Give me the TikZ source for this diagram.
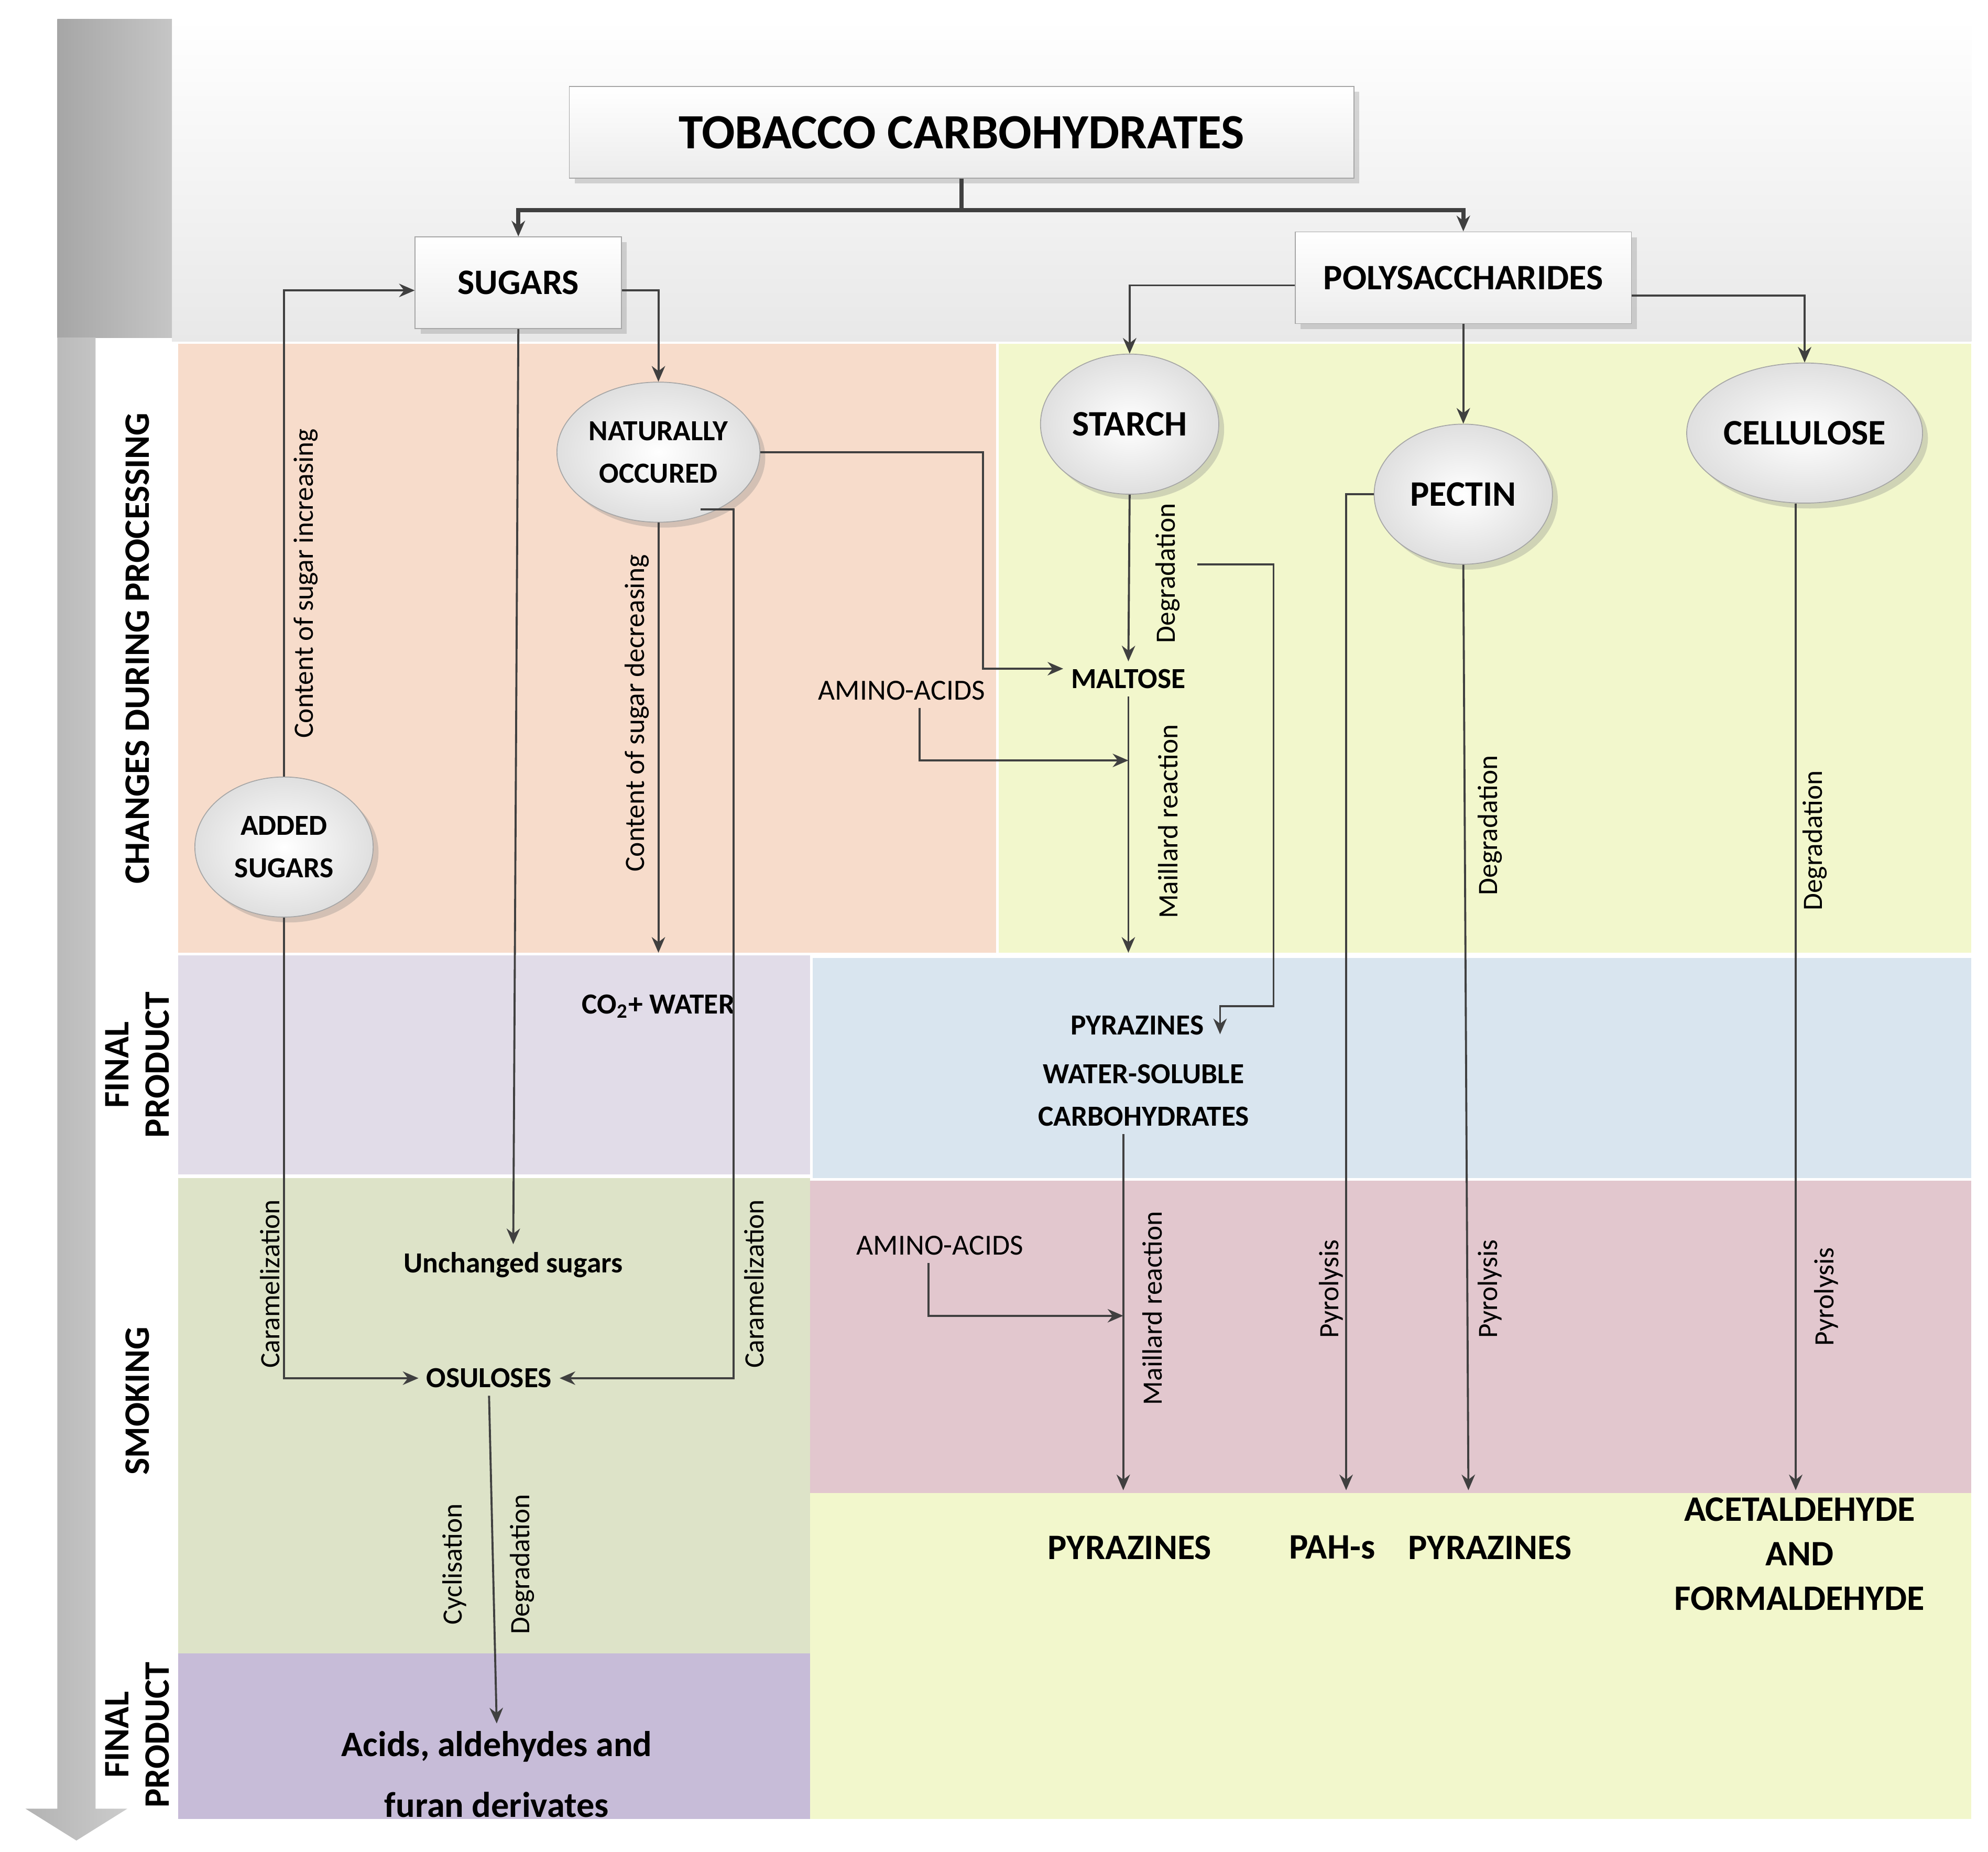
\documentclass[tikz,border=0pt]{standalone}
\usepackage{fontspec}
\setmainfont{Carlito}
\usetikzlibrary{shapes.geometric,arrows.meta,shadows}
\definecolor{ln}{HTML}{404040}
\definecolor{cor}{HTML}{F7DCCB}
\definecolor{cyl}{HTML}{F2F7CC}
\definecolor{clv}{HTML}{E1DCE8}
\definecolor{cbl}{HTML}{D9E5EF}
\definecolor{cgr}{HTML}{DDE3C8}
\definecolor{cpk}{HTML}{E2C7CE}
\definecolor{cpu}{HTML}{C7BCD8}
\begin{document}
\begin{tikzpicture}[x=0.02cm,y=-0.02cm,
 con/.style={draw=ln,line width=0.9pt,-{Stealth[length=7pt,width=6pt]}},
 box/.style={draw=gray!70,top color=white,bottom color=gray!15,font=\bfseries\fontsize{16}{19}\selectfont,drop shadow={opacity=0.3}},
 ell/.style={ellipse,draw=gray!70,inner color=white,outer color=gray!25,minimum width=140*0.02cm,minimum height=110*0.02cm,inner sep=1pt,align=center,font=\bfseries\fontsize{13}{19}\selectfont,drop shadow={opacity=0.3}},
 bl/.style={font=\bfseries\fontsize{13}{19}\selectfont,align=center},
 big/.style={font=\bfseries\fontsize{16}{24}\selectfont,align=center},
 lab/.style={font=\fontsize{12.5}{15}\selectfont,rotate=90},
 rowl/.style={font=\bfseries\fontsize{16}{18}\selectfont,rotate=90,align=center}]
\useasboundingbox (0,0) rectangle (1561,1454);
% backgrounds
\shade[top color=white,bottom color=gray!18] (135,15) rectangle (1548,268);
\shade[left color=gray!70,right color=gray!45] (45,15) rectangle (135,265);
\shade[left color=gray!60,right color=gray!40] (45,265) -- (75,265) -- (75,1420) -- (100,1420) -- (60,1445) -- (20,1420) -- (45,1420) -- cycle;
\fill[cor] (140,270) rectangle (782,748);
\fill[cyl] (784,270) rectangle (1548,748);
\fill[clv] (140,750) rectangle (636,922);
\fill[cbl] (638,752) rectangle (1548,925);
\fill[cgr] (140,925) rectangle (636,1298);
\fill[cpk] (636,927) rectangle (1548,1172);
\fill[cpu] (140,1298) rectangle (636,1428);
\fill[cyl] (636,1172) rectangle (1548,1428);
\node[rowl] (r1) at (108,509) {CHANGES DURING PROCESSING};
\node[rowl] (r2) at (108,836) {FINAL\\PRODUCT};
\node[rowl] (r3) at (108,1100) {SMOKING};
\node[rowl] (r4) at (108,1362) {FINAL\\PRODUCT};
% nodes
\node[box,minimum width=616*0.02cm,minimum height=72*0.02cm,font=\bfseries\fontsize{22}{26}\selectfont] (tc) at (755,104) {TOBACCO CARBOHYDRATES};
\node[box,minimum width=162*0.02cm,minimum height=72*0.02cm] (sug) at (407,222) {SUGARS};
\node[box,minimum width=264*0.02cm,minimum height=72*0.02cm] (pol) at (1149,218) {POLYSACCHARIDES};
\node[ell] (nat) at (517,355) {NATURALLY\\OCCURED};
\node[ell,font=\bfseries\fontsize{16}{20}\selectfont] (sta) at (887,333) {STARCH};
\node[ell,font=\bfseries\fontsize{16}{20}\selectfont] (pec) at (1149,388) {PECTIN};
\node[ell,font=\bfseries\fontsize{16}{20}\selectfont] (cel) at (1417,340) {CELLULOSE};
\node[ell] (add) at (223,665) {ADDED\\SUGARS};
\node[bl] (mal) at (886,533) {MALTOSE};
\node[font=\fontsize{13}{16}\selectfont] (am1) at (708,542) {AMINO-ACIDS};
\node[bl] (co2) at (517,790) {CO\textsubscript{2}+ WATER};
\node[bl] (py1) at (893,805) {PYRAZINES};
\node[bl] (ws) at (898,860) {WATER-SOLUBLE\\CARBOHYDRATES};
\node[bl] (un) at (403,993) {Unchanged sugars};
\node[bl] (os) at (384,1082) {OSULOSES};
\node[font=\fontsize{13}{16}\selectfont] (am2) at (738,978) {AMINO-ACIDS};
\node[big] (py2) at (887,1215) {PYRAZINES};
\node[big] (pah) at (1046,1215) {PAH-s};
\node[big] (py3) at (1170,1215) {PYRAZINES};
\node[big,font=\bfseries\fontsize{16}{20}\selectfont] (acf) at (1413,1220) {ACETALDEHYDE\\AND\\FORMALDEHYDE};
\node[big,font=\bfseries\fontsize{16}{27}\selectfont] (aci) at (390,1393) {Acids, aldehydes and\\furan derivates};
% connectors
\draw[ln,line width=1.8pt] (tc.south) -- (755,165);
\draw[con,line width=1.8pt] (755,165) -| (sug.north);
\draw[con,line width=1.8pt] (755,165) -| (pol.north);
\draw[con] (pol.west|-0,224) -| (sta.north);
\draw[con] (pol.south) -- (pec.north);
\draw[con] (pol.east|-0,232) -| (cel.north);
\draw[con] (sug.east|-0,228) -| (nat.north);
\draw[con] (add.north) |- (sug.west|-0,228);
\node[lab] (l1) at (240,458) {Content of sugar increasing};
\draw[con] (sug.south) -- (un.north);
\draw[con] (nat.south) -- (517,748);
\node[lab] (l2) at (500,560) {Content of sugar decreasing};
\draw[con] (nat.east) -| (772,525) -- (mal.west|-0,525);
\draw[con] (550,400) -| (576,1082) -- (os.east);
\node[lab] (l3) at (592,1008) {Caramelization};
\draw[con] (add.south) |- (os.west);
\node[lab] (l4) at (212,1008) {Caramelization};
\draw[con] (os.south) -- (aci.north);
\node[lab] (l5) at (357,1228) {Cyclisation};
\node[lab] (l6) at (410,1228) {Degradation};
\draw[con] (sta.south) -- (mal.north);
\node[lab] (l7) at (917,450) {Degradation};
\draw[con] (940,443) -- (1000,443) -- (1000,790) -- (958,790) -- (958,812);
\draw[con] (mal.south) -- (886,748);
\node[lab] (l8) at (917,645) {Maillard reaction};
\draw[con] (am1.south-|722,0) |- (886,597);
\draw[con] (pec.west) -| (1057,1170);
\node[lab] (l9) at (1045,1012) {Pyrolysis};
\draw[con] (pec.south) -- (1153,1170);
\node[lab] (l10) at (1170,648) {Degradation};
\node[lab] (l11) at (1170,1012) {Pyrolysis};
\draw[con] (cel.south-|1410,0) -- (1410,1170);
\node[lab] (l12) at (1425,660) {Degradation};
\node[lab] (l13) at (1434,1018) {Pyrolysis};
\draw[con] (ws.south-|882,0) -- (882,1170);
\node[lab] (l14) at (905,1027) {Maillard reaction};
\draw[con] (am2.south-|729,0) |- (882,1033);
\end{tikzpicture}
\end{document}
